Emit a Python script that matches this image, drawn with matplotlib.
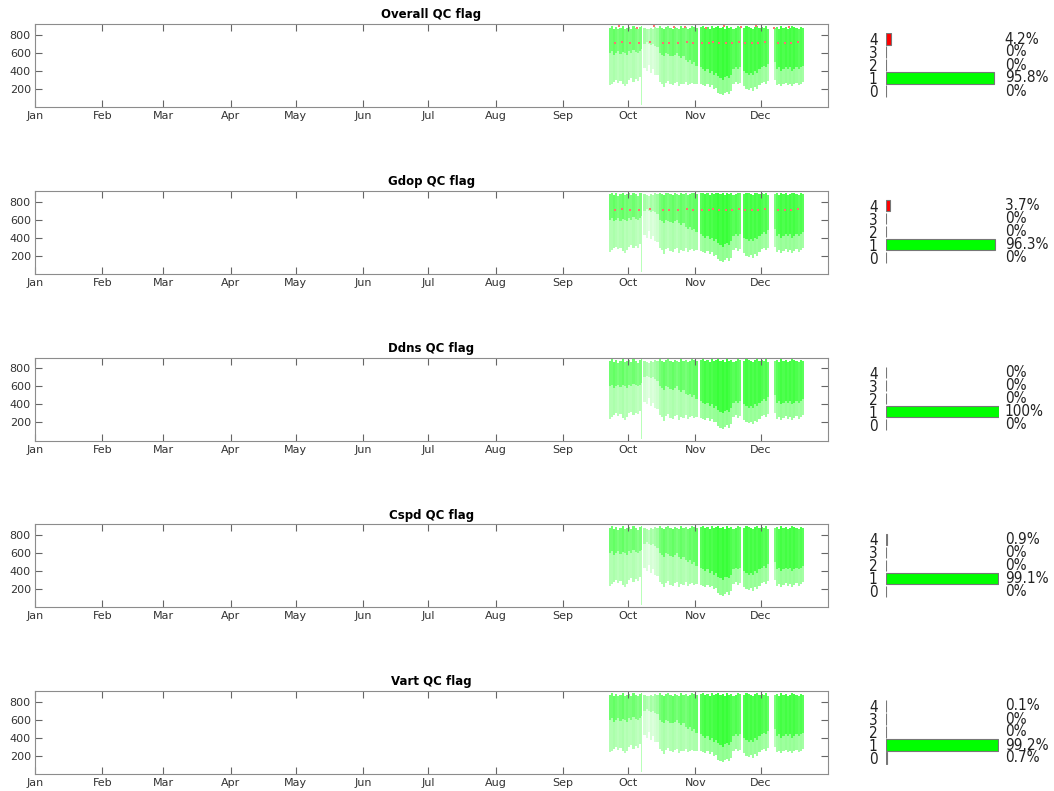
import numpy as np
import matplotlib
matplotlib.use('Agg')
import matplotlib.pyplot as plt

# month axis (day of year)
months = ['Jan', 'Feb', 'Mar', 'Apr', 'May', 'Jun', 'Jul', 'Aug', 'Sep', 'Oct', 'Nov', 'Dec']
month_start = [1, 32, 60, 91, 121, 152, 182, 213, 244, 274, 305, 335]

titles = ['Overall QC flag', 'Gdop QC flag', 'Ddns QC flag', 'Cspd QC flag', 'Vart QC flag']
flags = [0, 1, 2, 3, 4]
pct_overall = [0, 95.8, 0, 0, 4.2]
pct_gdop = [0, 96.3, 0, 0, 3.7]
pct_ddns = [0, 100, 0, 0, 0]
pct_cspd = [0, 99.1, 0, 0, 0.9]
pct_vart = [0.7, 99.2, 0, 0, 0.1]
flag_colors = ['#808080', '#00ff00', '#ffff00', '#ff9900', '#ff0000']

# daily envelope of the good (flag 1) range cells, first day = Sep 22 (doy 265)
first_day = 265
nan = np.nan
lo = [240, 260, 280, 300, 270, 290, 250, 230, 260, 300,
      320, 280, 310, 290, 330, 20, 430, 400, 470, 380,
      420, 360, 350, 280, 260, 220, 270, 290, 250, 240,
      270, 280, 230, 260, 250, 280, 240, 260, 270, 250,
      260, nan, 250, 240, 230, 250, 220, 240, 200, 210,
      160, 140, 130, 150, 170, 140, 180, 260, 280, 250,
      270, nan, 230, 200, 190, 210, 180, 220, 200, 240,
      270, 280, 260, 290, nan, nan, 300, 240, 260, 230,
      250, 270, 240, 260, 230, 250, 270, 240, 260, 280]
hi = [880, 900, 870, 890, 860, 880, 900, 870, 880, 890,
      870, 900, 880, 860, 890, 900, 880, 870, 860, 880,
      870, 890, 880, 900, 880, 870, 890, 900, 880, 870,
      890, 880, 870, 900, 880, 890, 870, 880, 900, 890,
      880, nan, 890, 900, 880, 890, 870, 900, 880, 890,
      900, 880, 890, 870, 900, 880, 890, 870, 880, 900,
      890, nan, 880, 900, 890, 880, 870, 890, 900, 880,
      890, 880, 900, 870, nan, nan, 880, 890, 870, 900,
      880, 890, 870, 880, 900, 890, 880, 870, 890, 880]
core = [600, 620, 580, 600, 620, 590, 610, 600, 580, 620,
        600, 630, 610, 600, 620, 640, 700, 720, 700, 690,
        700, 680, 660, 600, 580, 560, 600, 590, 570, 560,
        580, 600, 560, 540, 560, 520, 500, 520, 480, 500,
        460, nan, 440, 420, 400, 420, 380, 400, 360, 380,
        340, 320, 300, 330, 340, 320, 360, 420, 440, 420,
        440, nan, 400, 380, 360, 380, 360, 400, 380, 420,
        440, 460, 440, 480, nan, nan, 500, 420, 440, 400,
        420, 440, 420, 440, 400, 420, 440, 420, 440, 460]
dens = [0.55, 0.55, 0.6, 0.55, 0.5, 0.55, 0.6, 0.5, 0.55, 0.5,
        0.5, 0.55, 0.5, 0.45, 0.5, 0.5, 0.3, 0.25, 0.2, 0.3,
        0.25, 0.3, 0.35, 0.5, 0.55, 0.6, 0.55, 0.5, 0.55, 0.6,
        0.55, 0.5, 0.55, 0.6, 0.55, 0.5, 0.55, 0.6, 0.55, 0.6,
        0.6, nan, 0.65, 0.7, 0.75, 0.7, 0.75, 0.7, 0.75, 0.75,
        0.8, 0.75, 0.8, 0.75, 0.8, 0.75, 0.7, 0.65, 0.7, 0.65,
        0.6, nan, 0.7, 0.75, 0.7, 0.75, 0.7, 0.75, 0.7, 0.75,
        0.7, 0.65, 0.7, 0.6, nan, nan, 0.5, 0.65, 0.7, 0.75,
        0.7, 0.75, 0.7, 0.75, 0.7, 0.75, 0.7, 0.65, 0.7, 0.65]

# flag 4 (bad) points
red_gdop_day = [268, 271, 275, 279, 284, 290, 293, 297, 301, 304, 308, 311, 313,
                316, 319, 322, 325, 328, 331, 334, 337, 343, 346, 349, 352]
red_gdop_rng = [711, 715, 705, 711, 720, 711, 705, 711, 715, 711, 705, 711, 720,
                711, 705, 711, 715, 711, 705, 711, 720, 711, 705, 711, 715]
red_overall_day = red_gdop_day + [270, 278, 286, 295, 300, 310, 318, 326, 333, 341, 348]
red_overall_rng = red_gdop_rng + [895, 880, 900, 885, 890, 880, 895, 885, 900, 880, 890]

pcts = [pct_overall, pct_gdop, pct_ddns, pct_cspd, pct_vart]
reds = [(red_overall_day, red_overall_rng), (red_gdop_day, red_gdop_rng), None, None, None]

days = first_day + np.arange(len(lo))
lo_a, hi_a, core_a, dens_a = (np.array(v, dtype=float) for v in (lo, hi, core, dens))
ok = ~np.isnan(lo_a)
# spike day (single low column) drawn narrower
widths = np.where(lo_a < 100, 0.5, 1.0)[ok]


def green(a):
    return (1 - a, 1.0, 1 - a)


base_col = [green(0.55 * a) for a in dens_a[ok]]
core_col = [green(0.85 * a + 0.1) for a in dens_a[ok]]

fig = plt.figure(figsize=(10.54, 7.91), dpi=100)
W, H = 1054, 791
step = 166.75
edge = '#8c8c8c'
txt_font = dict(family='DejaVu Sans', stretch='condensed')

for i in range(5):
    ax = fig.add_axes([35 / W, 1 - (107 + step * i) / H, 793 / W, 83 / H])
    ax.bar(days[ok], hi_a[ok] - lo_a[ok], bottom=lo_a[ok], width=widths, align='edge',
           color=base_col, linewidth=0)
    ax.bar(days[ok], hi_a[ok] - core_a[ok], bottom=core_a[ok], width=widths, align='edge',
           color=core_col, linewidth=0)
    if reds[i] is not None:
        ax.scatter(reds[i][0], reds[i][1], s=1.5, marker='s', c='#ff7070',
                   linewidths=0, zorder=3)
    ax.set_xlim(1, 366)
    ax.set_ylim(0, 920)
    ax.set_xticks(month_start)
    ax.set_xticklabels(months)
    ax.set_yticks([200, 400, 600, 800])
    ax.tick_params(direction='in', length=5, width=0.8, color='#666666', labelsize=8,
                   labelcolor='#333333', top=True, right=True, pad=3)
    for sp in ax.spines.values():
        sp.set_color(edge)
        sp.set_linewidth(0.8)
    ax.set_title(titles[i], fontsize=8.5, fontweight='bold', pad=4)

    bax = fig.add_axes([886 / W, 1 - (97.5 + step * i) / H, 113 / W, 65 / H])
    bax.barh(flags, pcts[i], height=0.85, color=flag_colors, edgecolor='#777777', linewidth=0.8)
    bax.set_xlim(0, 100)
    bax.set_ylim(-0.5, 4.5)
    bax.set_yticks(flags)
    bax.set_yticklabels([str(f) for f in flags], fontsize=11, color='#222222', **txt_font)
    bax.tick_params(axis='y', length=0, pad=6)
    bax.set_xticks([])
    for sp in bax.spines.values():
        sp.set_visible(False)
    for f, p in zip(flags, pcts[i]):
        lab = '%d%%' % round(p) if abs(p - round(p)) < 0.05 else '%.1f%%' % p
        bax.text(105, f, lab, va='center', ha='left', fontsize=11, color='#222222',
                 clip_on=False, **txt_font)

fig.savefig('out.png', dpi=100)
